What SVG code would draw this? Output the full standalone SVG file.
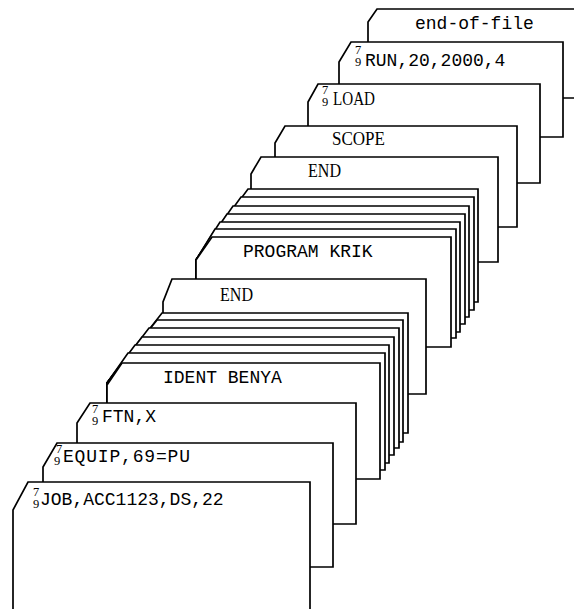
<svg xmlns="http://www.w3.org/2000/svg" width="574" height="609" viewBox="0 0 574 609">
<style>
.card{fill:#fff;stroke:#000;stroke-width:1.7;stroke-linejoin:miter}
.mono{font-family:"Liberation Mono","DejaVu Sans Mono",monospace;font-size:18px;fill:#000}
.serif{font-family:"Liberation Serif","DejaVu Serif",serif;font-size:18px;fill:#000}
.punch{font-family:"Liberation Serif","DejaVu Serif",serif;font-size:12.5px;fill:#000}
</style>
<rect width="574" height="609" fill="#fff"/>
<g id="card-eof">
<path class="card" d="M368 110 L368 22 L377 9 L580 9 L580 98 L368 98 Z"/>
<text class="mono" x="415" y="29">end-of-file</text>
</g>
<g id="card-run">
<path class="card" d="M339 137 L339 62 L351 42 L563 42 L563 137 Z"/>
<text class="punch"><tspan x="355" y="54">7</tspan><tspan x="355" y="66">9</tspan></text>
<text class="mono" x="365" y="66">RUN,20,2000,4</text>
</g>
<g id="card-load">
<path class="card" d="M308 183 L308 102 L318 84 L540 84 L540 183 Z"/>
<text class="punch"><tspan x="322" y="94">7</tspan><tspan x="322" y="106">9</tspan></text>
<text class="serif" x="333" y="105" textLength="42" lengthAdjust="spacingAndGlyphs">LOAD</text>
</g>
<g id="card-scope">
<path class="card" d="M275 227 L275 143 L285 126 L517 126 L517 227 Z"/>
<text class="serif" x="332" y="145" textLength="53" lengthAdjust="spacingAndGlyphs">SCOPE</text>
</g>
<g id="card-end1">
<path class="card" d="M251 262 L251 174 L261 157 L498 157 L498 262 Z"/>
<text class="serif" x="308" y="177" textLength="33" lengthAdjust="spacingAndGlyphs">END</text>
</g>
<g id="deck-krik">
<path class="card" d="M196 302 L196 260 L248 189 L478 189 L478 302 Z"/>
<path class="card" d="M196 310 L196 260 L241 197 L474 197 L474 310 Z"/>
<path class="card" d="M196 317 L196 260 L233 206 L469 206 L469 317 Z"/>
<path class="card" d="M196 324 L196 260 L227 214 L465 214 L465 324 Z"/>
<path class="card" d="M196 332 L196 260 L220 222 L460 222 L460 332 Z"/>
<path class="card" d="M196 338 L196 260 L215 229 L456 229 L456 338 Z"/>
</g>
<g id="card-program-krik">
<path class="card" d="M196 347 L196 260 L212 237 L451 237 L451 347 Z"/>
<text class="mono" x="243" y="257">PROGRAM KRIK</text>
</g>
<g id="card-end2">
<path class="card" d="M163 394 L163 302 L172 279 L426 279 L426 394 Z"/>
<text class="serif" x="220" y="301" textLength="33" lengthAdjust="spacingAndGlyphs">END</text>
</g>
<g id="deck-benya">
<path class="card" d="M107 433 L107 383 L162 313 L408 313 L408 433 Z"/>
<path class="card" d="M107 442 L107 383 L157 320 L403 320 L403 442 Z"/>
<path class="card" d="M107 448 L107 383 L149 328 L399 328 L399 448 Z"/>
<path class="card" d="M107 455 L107 383 L142 337 L394 337 L394 455 Z"/>
<path class="card" d="M107 463 L107 383 L135 345 L389 345 L389 463 Z"/>
<path class="card" d="M107 470 L107 383 L128 353 L385 353 L385 470 Z"/>
</g>
<g id="card-ident-benya">
<path class="card" d="M107 479 L107 385 L122 363 L380 363 L380 479 Z"/>
<text class="mono" x="163" y="383">IDENT BENYA</text>
</g>
<g id="card-ftn">
<path class="card" d="M77 524 L77 423 L90 403 L356 403 L356 524 Z"/>
<text class="punch"><tspan x="92" y="413">7</tspan><tspan x="92" y="425">9</tspan></text>
<text class="mono" x="102" y="422">FTN,X</text>
</g>
<g id="card-equip">
<path class="card" d="M43 567 L43 467 L57 443 L333 443 L333 567 Z"/>
<text class="punch"><tspan x="56" y="453">7</tspan><tspan x="54" y="465">9</tspan></text>
<text class="mono" x="63" y="462" textLength="127">EQUIP,69=PU</text>
</g>
<g id="card-job">
<path class="card" d="M13 620 L13 510 L28 482 L310 482 L310 620 Z"/>
<text class="punch"><tspan x="33" y="496">7</tspan><tspan x="33" y="508">9</tspan></text>
<text class="mono" x="40" y="505">JOB,ACC1123,DS,22</text>
</g>
</svg>
